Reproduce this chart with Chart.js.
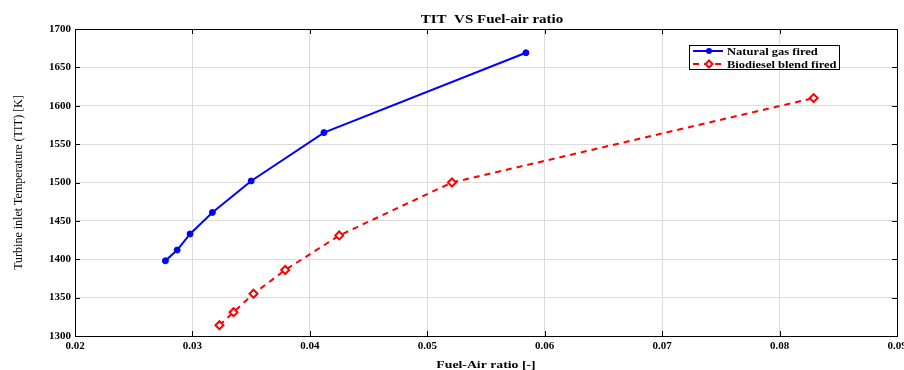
<!DOCTYPE html>
<html>
<head>
<meta charset="utf-8">
<script src="https://cdn.jsdelivr.net/npm/chart.js@4"></script>
<style>
  html, body { margin: 0; padding: 0; background: #fff; }
  #wrap { width: 904px; height: 370px; }
</style>
</head>
<body>
<div id="wrap"><canvas id="titChart" width="904" height="370"></canvas></div>
<script>
// fuel-air ratio and turbine inlet temperature for both fuels
const farGas = [0.0277, 0.0287, 0.0298, 0.0317, 0.0350, 0.0412, 0.0584];
const titGas = [1398, 1412, 1433, 1461, 1502, 1565, 1669];
const farBio = [0.0323, 0.0335, 0.0352, 0.0379, 0.0425, 0.0521, 0.0829];
const titBio = [1314, 1331, 1355, 1386, 1431, 1500, 1610];
const xTicks = [0.02, 0.03, 0.04, 0.05, 0.06, 0.07, 0.08, 0.09];
const yTicks = [1300, 1350, 1400, 1450, 1500, 1550, 1600, 1650, 1700];

const chartTitle = 'TIT  VS Fuel-air ratio';
const xLabel = 'Fuel-Air ratio [-]';
const yLabel = 'Turbine inlet Temperature (TIT) [K]';

const serif = "'Liberation Serif', 'Times New Roman', serif";
const stretch = 1.25;   // the exported figure text is a bit wide

const toPoints = (xs, ys) => xs.map((x, i) => ({ x: x, y: ys[i] }));

function wideText(ctx, text, x, y, font, align) {
    ctx.save();
    ctx.font = font;
    ctx.fillStyle = '#000';
    ctx.textAlign = align || 'center';
    ctx.textBaseline = 'middle';
    ctx.translate(x, y);
    ctx.scale(stretch, 1);
    ctx.fillText(text, 0, 0);
    ctx.restore();
}

// box around the plot area plus small inward ticks on all four sides
const frameTicks = {
    id: 'frameTicks',
    afterDatasetsDraw(chart) {
        const { ctx, chartArea: a, scales } = chart;
        ctx.save();
        ctx.strokeStyle = '#000';
        ctx.lineWidth = 1;
        ctx.beginPath();
        xTicks.forEach(v => {
            const px = Math.round(scales.x.getPixelForValue(v)) + 0.5;
            ctx.moveTo(px, a.bottom); ctx.lineTo(px, a.bottom - 5);
            ctx.moveTo(px, a.top); ctx.lineTo(px, a.top + 5);
        });
        yTicks.forEach(v => {
            const py = Math.round(scales.y.getPixelForValue(v)) + 0.5;
            ctx.moveTo(a.left, py); ctx.lineTo(a.left + 5, py);
            ctx.moveTo(a.right, py); ctx.lineTo(a.right - 5, py);
        });
        ctx.stroke();
        ctx.strokeRect(Math.round(a.left) + 0.5, Math.round(a.top) + 0.5,
            Math.round(a.right - a.left), Math.round(a.bottom - a.top));
        ctx.restore();
    }
};

// title over the plot area and the x axis label under it
const titles = {
    id: 'titles',
    afterDraw(chart) {
        const { ctx, chartArea: a } = chart;
        const cx = (a.left + a.right) / 2 + 6;
        wideText(ctx, chartTitle, cx, a.top - 9, 'bold 12px ' + serif);
        wideText(ctx, xLabel, cx - 6, a.bottom + 29, 'bold 11px ' + serif);
    }
};

// boxed legend in the upper right, line sample with marker
const boxLegend = {
    id: 'boxLegend',
    afterDraw(chart) {
        const ctx = chart.ctx;
        const x0 = 689, y0 = 45, w = 150, h = 24;
        ctx.save();
        ctx.fillStyle = '#fff';
        ctx.fillRect(x0, y0, w, h);
        ctx.strokeStyle = '#000';
        ctx.lineWidth = 1;
        ctx.strokeRect(x0 + 0.5, y0 + 0.5, w, h);
        chart.data.datasets.forEach((ds, i) => {
            const cy = y0 + 6 + i * 13;
            ctx.strokeStyle = ds.borderColor;
            ctx.lineWidth = 2;
            ctx.setLineDash(ds.borderDash || []);
            ctx.beginPath();
            ctx.moveTo(x0 + 4, cy);
            ctx.lineTo(x0 + 34, cy);
            ctx.stroke();
            ctx.setLineDash([]);
            const mx = x0 + 20;
            if (ds.pointStyle === 'rectRot') {
                ctx.fillStyle = '#fff';
                ctx.beginPath();
                ctx.moveTo(mx, cy - 3.5); ctx.lineTo(mx + 3.5, cy);
                ctx.lineTo(mx, cy + 3.5); ctx.lineTo(mx - 3.5, cy);
                ctx.closePath();
                ctx.fill(); ctx.stroke();
            } else {
                ctx.fillStyle = ds.borderColor;
                ctx.beginPath();
                ctx.arc(mx, cy, 3, 0, Math.PI * 2);
                ctx.fill();
            }
            ctx.restore();
            ctx.save();
            wideText(ctx, ds.label, x0 + 38, cy + 1, 'bold 10px ' + serif, 'left');
        });
        ctx.restore();
    }
};

new Chart(document.getElementById('titChart').getContext('2d'), {
    type: 'scatter',
    data: {
        datasets: [{
            label: 'Natural gas fired',
            data: toPoints(farGas, titGas),
            showLine: true,
            borderColor: '#0000ff',
            backgroundColor: '#0000ff',
            borderWidth: 2,
            pointStyle: 'circle',
            pointRadius: 3,
            pointBorderWidth: 1
        }, {
            label: 'Biodiesel blend fired',
            data: toPoints(farBio, titBio),
            showLine: true,
            borderColor: '#ff0000',
            backgroundColor: '#ffffff',
            borderWidth: 2,
            borderDash: [6, 5],
            pointStyle: 'rectRot',
            pointRadius: 4,
            pointBorderWidth: 2
        }]
    },
    options: {
        responsive: false,
        animation: false,
        layout: { padding: { left: 12, right: 7, top: 29, bottom: 0 } },
        plugins: {
            legend: { display: false },
            tooltip: { enabled: false },
            title: { display: false }
        },
        scales: {
            x: {
                type: 'linear',
                min: 0.02,
                max: 0.09,
                afterBuildTicks: s => { s.ticks = xTicks.map(v => ({ value: v })); },
                afterFit: s => {
                    s.height = 34;
                    s.paddingLeft = 0;
                    s.paddingRight = 0;
                },
                grid: { color: '#dcdcdc', drawTicks: false },
                border: { display: false },
                ticks: {
                    color: '#000',
                    padding: 4,
                    font: { family: serif, size: 11, weight: 'bold' },
                    callback: v => String(v)
                }
            },
            y: {
                min: 1300,
                max: 1700,
                afterBuildTicks: s => { s.ticks = yTicks.map(v => ({ value: v })); },
                afterFit: s => { s.width = 63; },
                grid: { color: '#dcdcdc', drawTicks: false },
                border: { display: false },
                ticks: {
                    color: '#000',
                    padding: 4,
                    font: { family: serif, size: 11, weight: 'bold' },
                    callback: v => String(v)
                },
                title: {
                    display: true,
                    text: yLabel,
                    color: '#000',
                    font: { family: serif, size: 12 },
                    padding: { top: 0, bottom: 4 }
                }
            }
        }
    },
    plugins: [frameTicks, titles, boxLegend]
});
</script>
</body>
</html>
